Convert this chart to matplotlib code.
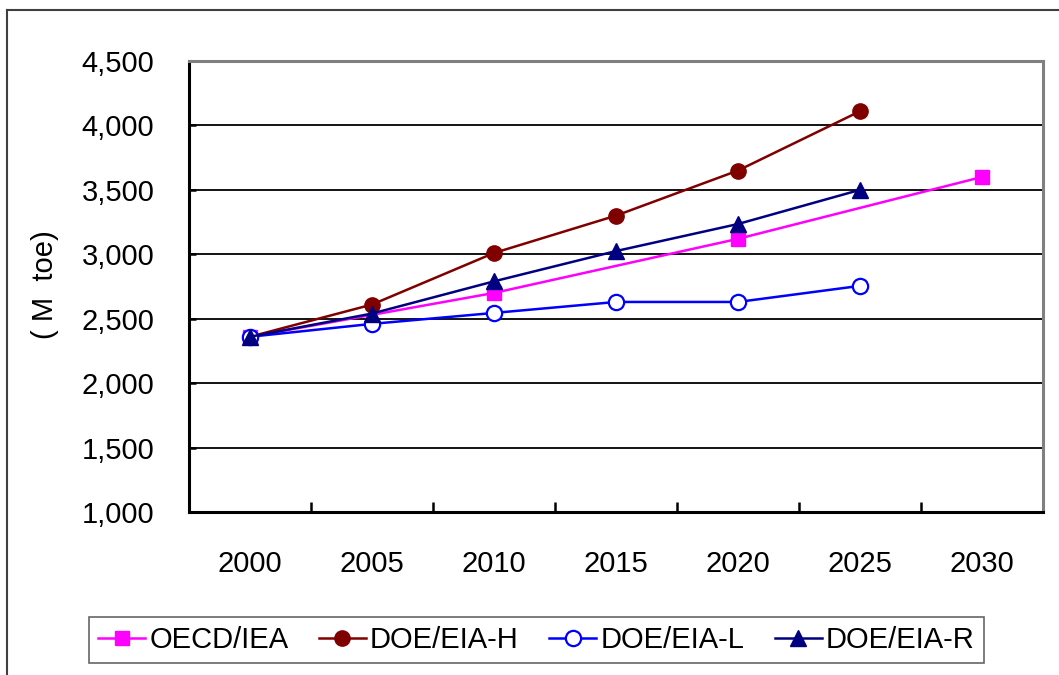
import matplotlib.pyplot as plt
import numpy as np
from matplotlib.lines import Line2D

plt.rcParams['font.family'] = ['Liberation Sans Narrow', 'Liberation Sans', 'DejaVu Sans']

years = ['2000', '2005', '2010', '2015', '2020', '2025', '2030']

# OECD/IEA only has values every ten years
oecd_idx = [0, 2, 4, 6]
oecd_iea = [2360, 2700, 3120, 3600]

doe_h = [2360, 2610, 3010, 3300, 3650, 4110]
doe_l = [2360, 2460, 2545, 2630, 2630, 2755]
doe_r = [2360, 2540, 2790, 3025, 3235, 3500]

fig = plt.figure(figsize=(10.59, 6.75), dpi=100)
ax = fig.add_axes([189/1059, 1 - 512/675, (1043 - 189)/1059, (512 - 61)/675])

x = np.arange(len(years))
ax.plot(oecd_idx, oecd_iea, color='#FF00FF', lw=1.8, marker='s', ms=10, label='OECD/IEA')
ax.plot(x[:6], doe_h, color='#800000', lw=1.8, marker='o', ms=11, label='DOE/EIA-H')
ax.plot(x[:6], doe_l, color='#0000FF', lw=1.8, marker='o', ms=11, mfc='white', mew=1.6, label='DOE/EIA-L')
ax.plot(x[:6], doe_r, color='#000080', lw=1.8, marker='^', ms=12, label='DOE/EIA-R')

ax.set_xlim(-0.5, 6.5)
ax.set_ylim(1000, 4500)
ax.set_yticks(np.arange(1000, 4501, 500))
ax.set_yticklabels(['{:,}'.format(v) for v in range(1000, 4501, 500)])
ax.set_xticks(x)
ax.set_xticklabels(years)
ax.set_xticks(np.arange(0.5, 6.5, 1), minor=True)
ax.tick_params(axis='x', which='major', length=0, pad=27, labelsize=21)
ax.tick_params(axis='x', which='minor', direction='in', length=7, width=1.8)
ax.tick_params(axis='y', direction='in', length=5, width=1.8, pad=25, labelsize=21)
ax.yaxis.grid(True, color='black', lw=1.3)
ax.set_axisbelow(True)

for s in ['left', 'bottom']:
    ax.spines[s].set_color('black')
    ax.spines[s].set_linewidth(2.2)
for s in ['top', 'right']:
    ax.spines[s].set_color('#808080')
    ax.spines[s].set_linewidth(2.2)

fig.text(45/1059, 1 - 285/675, '( M  toe)', rotation=90, fontsize=21,
         ha='center', va='center')

leg = fig.legend(loc='center', bbox_to_anchor=(536.5/1059, 1 - 640/675), ncol=4,
                 fontsize=21, frameon=True, fancybox=False, handlelength=1.6,
                 handletextpad=0.15, columnspacing=1.05, borderpad=0.3)
leg.get_frame().set_edgecolor('#404040')
leg.get_frame().set_linewidth(1.2)

# outer chart frame
fig.add_artist(Line2D([7/1059, 7/1059], [0, 1 - 10/675], transform=fig.transFigure,
                      color='#404040', lw=1.5))
fig.add_artist(Line2D([7/1059, 1], [1 - 10/675, 1 - 10/675], transform=fig.transFigure,
                      color='#404040', lw=1.5))

fig.savefig('out.png', dpi=100)
